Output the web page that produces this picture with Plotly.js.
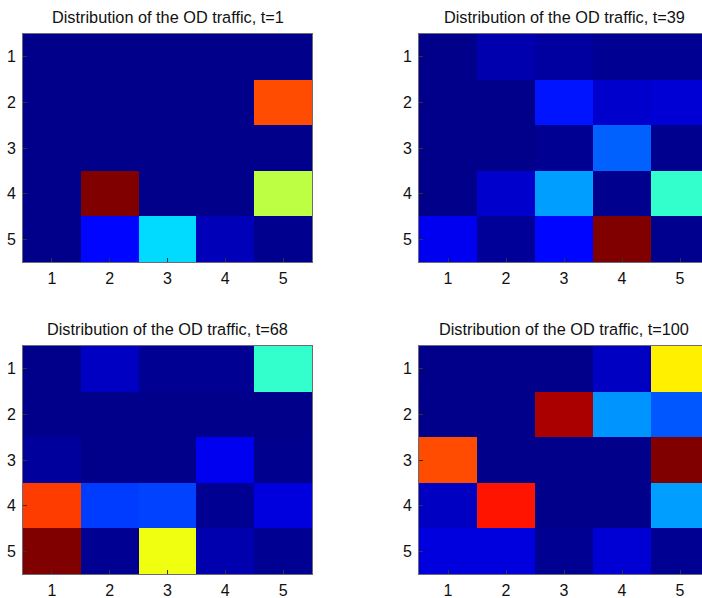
<!DOCTYPE html>
<html>
<head>
<meta charset="utf-8">
<script src="https://cdn.plot.ly/plotly-3.0.1.min.js"></script>
<style>html,body{margin:0;padding:0;overflow:hidden;background:#fff;}#chart{width:710px;height:598px;}</style>
</head>
<body>
<div id="chart"></div>
<script>
// OD indices (origin rows, destination columns)
const odIndex = [1, 2, 3, 4, 5];
const tickLabels = ['1', '2', '3', '4', '5'];
const titles = [
  'Distribution of the OD traffic, t=1',
  'Distribution of the OD traffic, t=39',
  'Distribution of the OD traffic, t=68',
  'Distribution of the OD traffic, t=100'
];
// normalised traffic (0 = min, 1 = max of each snapshot), rows = origin 1..5
const trafficT1 = [
  [0, 0, 0, 0, 0],
  [0, 0, 0, 0, 0.80],
  [0, 0, 0, 0, 0],
  [0, 1.00, 0, 0, 0.56],
  [0, 0.13, 0.34, 0.05, 0.005]
];
const trafficT39 = [
  [0, 0.04, 0.025, 0.01, 0.01],
  [0, 0, 0.145, 0.07, 0.08],
  [0, 0, 0.01, 0.22, 0.005],
  [0, 0.07, 0.28, 0.005, 0.425],
  [0.11, 0.015, 0.13, 1.00, 0.005]
];
const trafficT68 = [
  [0, 0.06, 0.01, 0.01, 0.425],
  [0, 0, 0, 0, 0],
  [0.02, 0, 0, 0.11, 0.005],
  [0.816, 0.184, 0.19, 0.01, 0.09],
  [1.00, 0.01, 0.61, 0.04, 0.01]
];
const trafficT100 = [
  [0, 0, 0, 0.06, 0.64],
  [0, 0, 0.958, 0.27, 0.21],
  [0.80, 0, 0, 0, 1.00],
  [0.06, 0.855, 0, 0, 0.28],
  [0.09, 0.09, 0.01, 0.08, 0.01]
];

const jet = [
  [0, 'rgb(0,0,138)'],
  [0.125, 'rgb(0,0,255)'],
  [0.375, 'rgb(0,255,255)'],
  [0.625, 'rgb(255,255,0)'],
  [0.875, 'rgb(255,0,0)'],
  [1, 'rgb(128,0,0)']
];

const W = 710, H = 598;
const boxes = [
  {x0: 23, x1: 312, y0: 34, y1: 262},
  {x0: 419, x1: 709, y0: 34, y1: 262},
  {x0: 23, x1: 312, y0: 346, y1: 574},
  {x0: 419, x1: 709, y0: 346, y1: 574}
];
const datasets = [trafficT1, trafficT39, trafficT68, trafficT100];

const traces = [];
const layout = {
  width: W, height: H,
  margin: {l: 0, r: 0, t: 0, b: 0},
  paper_bgcolor: '#fff', plot_bgcolor: '#fff',
  showlegend: false,
  font: {family: 'Liberation Sans, Arial, sans-serif', color: '#000'},
  annotations: []
};

datasets.forEach((z, i) => {
  const n = i === 0 ? '' : String(i + 1);
  traces.push({
    type: 'heatmap', x: odIndex, y: odIndex, z: z,
    zmin: 0, zmax: 1, colorscale: jet, showscale: false,
    xaxis: 'x' + n, yaxis: 'y' + n, hoverinfo: 'x+y+z'
  });
  const b = boxes[i];
  const axStyle = {
    showline: true, linecolor: '#6b6b78', linewidth: 1, mirror: true,
    ticks: 'inside', ticklen: 4, tickcolor: '#333', tickwidth: 1,
    showgrid: false, zeroline: false,
    tickmode: 'array', tickvals: odIndex, ticktext: tickLabels,
    tickfont: {size: 16, color: '#111', family: 'Liberation Sans, Arial, sans-serif'},
    fixedrange: true
  };
  layout['xaxis' + n] = Object.assign({}, axStyle, {
    domain: [b.x0 / W, b.x1 / W], anchor: 'y' + n,
    range: [0.5, 5.5], ticklabelstandoff: 2
  });
  layout['yaxis' + n] = Object.assign({}, axStyle, {
    domain: [1 - b.y1 / H, 1 - b.y0 / H], anchor: 'x' + n,
    range: [5.5, 0.5], ticklabelstandoff: 3
  });
  layout.annotations.push({
    text: titles[i], showarrow: false,
    xref: 'paper', yref: 'paper',
    x: (b.x0 + b.x1) / 2 / W, y: 1 - (b.y0 - 17) / H,
    xanchor: 'center', yanchor: 'middle',
    font: {size: 16.3, color: '#111', family: 'Liberation Sans, Arial, sans-serif'}
  });
});

Plotly.newPlot('chart', traces, layout, {displayModeBar: false, staticPlot: true});
</script>
</body>
</html>
